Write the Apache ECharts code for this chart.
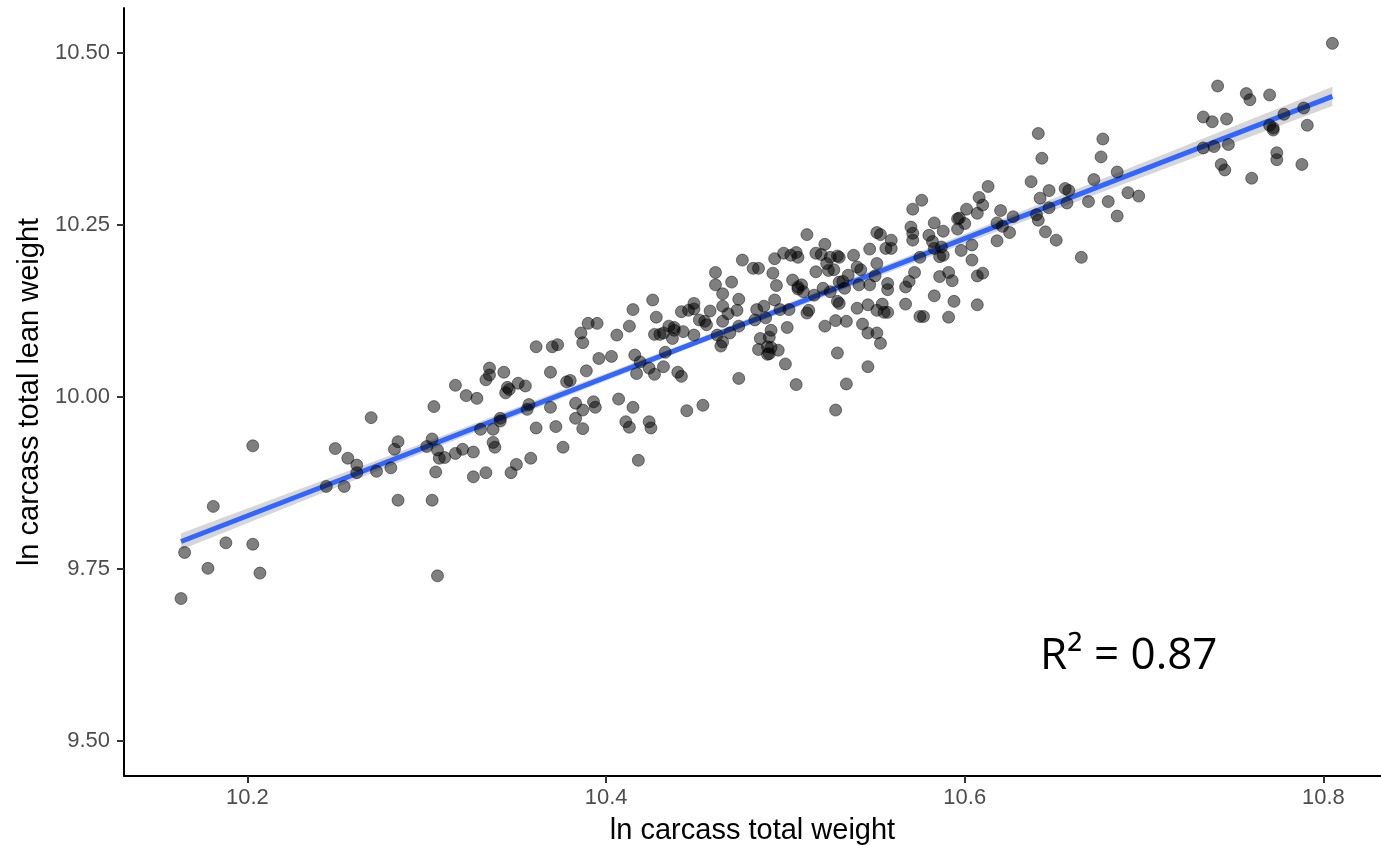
<!DOCTYPE html>
<html>
<head>
<meta charset="utf-8">
<script src="https://cdn.jsdelivr.net/npm/echarts@6/dist/echarts.min.js"></script>
<style>
html,body{margin:0;padding:0;background:#fff;}
#chart{width:1381px;height:845px;}
</style>
</head>
<body>
<div id="chart"></div>
<script>
// ln carcass total weight (x), ln carcass total lean weight (y)
const carcassPoints = [
[10.203,9.929],[10.181,9.841],[10.165,9.774],[10.178,9.751],[10.163,9.707],[10.188,9.788],[10.203,9.786],[10.207,9.744],
[10.249,9.925],[10.256,9.911],[10.261,9.901],[10.261,9.890],[10.244,9.870],[10.254,9.870],[10.269,9.970],[10.272,9.892],
[10.280,9.897],[10.282,9.924],[10.284,9.935],[10.284,9.850],[10.303,9.850],[10.306,9.740],[10.304,9.986],[10.303,9.939],
[10.300,9.928],[10.305,9.891],[10.306,9.923],[10.307,9.911],[10.310,9.912],[10.316,9.918],[10.316,10.017],
[10.320,9.924],[10.326,9.920],[10.326,9.884],[10.322,10.002],[10.328,9.998],[10.330,9.953],[10.333,9.890],[10.333,10.025],
[10.335,10.032],[10.335,10.042],[10.337,9.953],[10.337,9.934],[10.338,9.927],[10.341,9.969],[10.341,9.965],[10.343,10.036],
[10.344,10.006],[10.346,10.011],[10.345,10.014],[10.351,10.020],[10.355,10.016],[10.350,9.902],[10.347,9.890],[10.358,9.911],
[10.356,9.982],[10.357,9.989],[10.361,9.955],[10.361,10.073],[10.369,10.036],[10.369,9.985],[10.372,9.957],[10.376,9.927],
[10.370,10.073],[10.373,10.076],[10.378,10.022],[10.380,10.024],[10.383,9.991],[10.383,9.969],[10.387,9.954],[10.387,9.981],
[10.389,10.038],[10.386,10.093],[10.387,10.079],[10.390,10.107],[10.395,10.107],[10.393,9.993],[10.394,9.985],[10.396,10.056],
[10.403,10.059],[10.406,10.090],[10.413,10.103],[10.415,10.127],[10.416,10.061],[10.419,10.051],[10.417,10.034],[10.407,9.997],
[10.415,9.985],[10.411,9.964],[10.413,9.956],[10.424,9.964],[10.425,9.955],[10.418,9.908],[10.424,10.042],[10.427,10.033],
[10.432,10.044],[10.433,10.065],[10.426,10.141],[10.428,10.116],[10.427,10.091],[10.430,10.091],[10.432,10.093],[10.435,10.103],
[10.438,10.097],[10.438,10.101],[10.437,10.085],[10.443,10.095],[10.440,10.036],[10.442,10.030],[10.445,9.980],[10.454,9.988],
[10.442,10.124],[10.446,10.126],[10.449,10.128],[10.449,10.136],[10.449,10.090],[10.452,10.112],[10.455,10.110],[10.456,10.105],
[10.458,10.125],[10.461,10.181],[10.461,10.163],[10.465,10.150],[10.470,10.167],[10.465,10.132],[10.465,10.110],[10.468,10.121],
[10.462,10.090],[10.465,10.080],[10.464,10.074],[10.469,10.093],[10.474,10.142],[10.473,10.126],[10.474,10.103],[10.476,10.199],
[10.474,10.027],[10.482,10.187],[10.485,10.187],[10.484,10.127],[10.488,10.132],[10.483,10.112],[10.489,10.115],[10.486,10.085],
[10.491,10.087],[10.485,10.069],[10.490,10.073],[10.492,10.072],[10.490,10.062],[10.491,10.063],[10.496,10.068],[10.500,10.048],
[10.492,10.097],[10.494,10.141],[10.497,10.127],[10.495,10.162],[10.493,10.180],[10.494,10.201],[10.499,10.209],[10.503,10.206],
[10.506,10.210],[10.507,10.203],[10.504,10.170],[10.507,10.160],[10.509,10.163],[10.510,10.153],[10.507,10.157],[10.502,10.127],
[10.501,10.101],[10.506,10.018],[10.512,10.236],[10.513,10.126],[10.512,10.122],[10.516,10.148],[10.522,10.222],[10.517,10.209],
[10.520,10.207],[10.517,10.182],[10.521,10.158],[10.525,10.153],[10.523,10.194],[10.524,10.184],[10.527,10.185],[10.525,10.203],
[10.529,10.205],[10.530,10.203],[10.530,10.167],[10.535,10.177],[10.532,10.168],[10.533,10.158],[10.529,10.139],[10.530,10.136],
[10.522,10.103],[10.528,10.111],[10.534,10.110],[10.529,10.064],[10.534,10.019],[10.528,9.981],[10.538,10.206],[10.540,10.189],
[10.540,10.129],[10.541,10.163],[10.542,10.185],[10.546,10.044],[10.547,10.163],[10.543,10.106],[10.546,10.093],[10.551,10.093],
[10.553,10.078],[10.550,10.176],[10.551,10.194],[10.547,10.215],[10.551,10.239],[10.553,10.236],[10.556,10.216],[10.559,10.216],
[10.559,10.228],[10.557,10.165],[10.557,10.156],[10.554,10.135],[10.546,10.134],[10.551,10.126],[10.555,10.123],[10.557,10.123],
[10.567,10.135],[10.567,10.160],[10.569,10.168],[10.572,10.181],[10.575,10.117],[10.577,10.117],[10.583,10.147],[10.591,10.116],
[10.594,10.139],[10.607,10.134],[10.586,10.175],[10.593,10.169],[10.591,10.181],[10.607,10.176],[10.610,10.180],[10.604,10.199],
[10.598,10.213],[10.604,10.221],[10.586,10.204],[10.588,10.206],[10.575,10.203],[10.583,10.216],[10.587,10.218],[10.582,10.226],
[10.580,10.235],[10.571,10.228],[10.571,10.238],[10.570,10.247],[10.571,10.273],[10.576,10.286],[10.583,10.253],[10.588,10.241],
[10.596,10.259],[10.597,10.260],[10.601,10.273],[10.600,10.252],[10.596,10.244],[10.608,10.290],[10.610,10.279],[10.607,10.267],
[10.613,10.306],[10.620,10.271],[10.618,10.253],[10.621,10.248],[10.627,10.262],[10.618,10.227],[10.625,10.239],[10.637,10.313],
[10.640,10.265],[10.641,10.257],[10.642,10.289],[10.647,10.300],[10.647,10.275],[10.645,10.240],[10.651,10.228],[10.656,10.303],
[10.658,10.300],[10.657,10.282],[10.665,10.203],[10.669,10.284],[10.672,10.316],[10.680,10.284],[10.685,10.263],[10.685,10.327],
[10.691,10.297],[10.697,10.292],[10.641,10.383],[10.643,10.347],[10.677,10.375],[10.676,10.349],
[10.805,10.514],[10.741,10.452],[10.757,10.441],[10.759,10.432],[10.770,10.439],[10.733,10.407],[10.738,10.400],[10.746,10.404],
[10.778,10.411],[10.789,10.420],[10.791,10.395],[10.770,10.395],[10.772,10.391],[10.772,10.388],[10.733,10.362],[10.739,10.364],
[10.747,10.367],[10.743,10.338],[10.745,10.330],[10.774,10.355],[10.774,10.345],[10.788,10.338],[10.760,10.318]
];

// linear fit line and its confidence band
const fitX = [10.163, 10.805];
const fitY = [9.790, 10.437];
const bandX  = [10.163, 10.300, 10.450, 10.600, 10.805];
const bandLo = [9.778, 9.921, 10.075, 10.223, 10.423];
const bandHi = [9.802, 9.935, 10.084, 10.237, 10.451];

const xTicks = [10.2, 10.4, 10.6, 10.8];
const yTicks = [9.5, 9.75, 10.0, 10.25, 10.5];
const annotation = 'R\u00B2 = 0.87';

const chart = echarts.init(document.getElementById('chart'), null, {renderer: 'canvas'});

const axisCommon = {
  type: 'value',
  scale: true,
  splitLine: {show: false},
  axisLine: {show: true, onZero: false, lineStyle: {color: '#000', width: 2}},
  axisTick: {show: true, length: 7, lineStyle: {color: '#333', width: 2}},
  nameLocation: 'middle',
  nameTextStyle: {fontFamily: 'Liberation Sans', fontSize: 29, color: '#000'}
};

chart.setOption({
  animation: false,
  backgroundColor: '#fff',
  grid: {left: 124, top: 8, right: 0, bottom: 69, containLabel: false, outerBoundsMode: 'none'},
  xAxis: Object.assign({}, axisCommon, {
    min: 10.1312, max: 10.8321,
    name: 'ln carcass total weight', nameGap: 40,
    axisTick: Object.assign({}, axisCommon.axisTick, {customValues: xTicks}),
    axisLabel: {customValues: xTicks, margin: 11, fontFamily: 'Liberation Sans', fontSize: 22, color: '#4D4D4D',
      formatter: v => v.toFixed(1)}
  }),
  yAxis: Object.assign({}, axisCommon, {
    min: 9.4491, max: 10.5654,
    name: 'ln carcass total lean weight', nameGap: 80,
    axisTick: Object.assign({}, axisCommon.axisTick, {customValues: yTicks}),
    axisLabel: {customValues: yTicks, margin: 14, fontFamily: 'Liberation Sans', fontSize: 22, color: '#4D4D4D',
      formatter: v => v.toFixed(2)}
  }),
  series: [
    {
      type: 'custom',
      z: 1,
      silent: true,
      data: [0],
      renderItem: function (params, api) {
        const pts = [];
        for (let i = 0; i < bandX.length; i++) pts.push(api.coord([bandX[i], bandHi[i]]));
        for (let i = bandX.length - 1; i >= 0; i--) pts.push(api.coord([bandX[i], bandLo[i]]));
        return {type: 'polygon', shape: {points: pts}, style: {fill: 'rgba(153,153,153,0.4)'}};
      }
    },
    {
      type: 'line',
      z: 2,
      data: fitX.map((x, i) => [x, fitY[i]]),
      showSymbol: false,
      lineStyle: {color: '#3366FF', width: 5},
      silent: true
    },
    {
      type: 'scatter',
      z: 3,
      data: carcassPoints,
      symbol: 'circle',
      symbolSize: 12,
      itemStyle: {color: 'rgba(0,0,0,0.5)', borderColor: 'rgba(0,0,0,0.45)', borderWidth: 1, opacity: 1}
    }
  ],
  graphic: [{
    type: 'text',
    left: 1040,
    top: 634,
    style: {text: annotation, fontFamily: 'Open Sans', fontSize: 44, fill: '#000'}
  }]
});
</script>
</body>
</html>
